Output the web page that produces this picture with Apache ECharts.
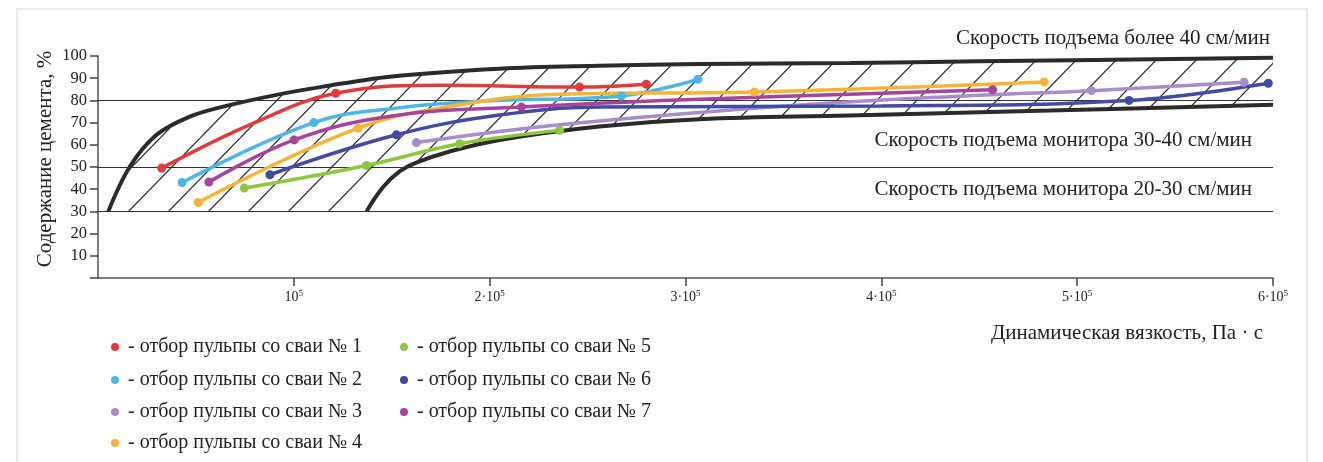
<!DOCTYPE html>
<html><head><meta charset="utf-8">
<script src="https://cdn.jsdelivr.net/npm/echarts@6/dist/echarts.min.js"></script>
<style>html,body{margin:0;padding:0;background:#fff}#c{width:1323px;height:462px}</style>
</head><body><div id="c"></div>
<script>
// ---- data (x: Pa·s, y: %, third value: 1 = visible marker, 0 = line point only)
const seriesNames = [
  'отбор пульпы со сваи № 1','отбор пульпы со сваи № 2','отбор пульпы со сваи № 3',
  'отбор пульпы со сваи № 4','отбор пульпы со сваи № 5','отбор пульпы со сваи № 6',
  'отбор пульпы со сваи № 7'
];
const seriesColors = ['#e3393a','#4db6e8','#a98cca','#f5b434','#8dc63f','#3f4ca2','#a6449c'];
const pile1 = [[32500,49.5,1],[80000,70,0],[121400,83.2,1],[175000,86.8,0],[245900,86,1],[280000,87.3,1]];
const pile2 = [[43000,43,1],[110200,70,1],[154000,76.7,0],[200000,79.8,0],[267200,82,1],[306300,89.5,1]];
const pile3 = [[162600,61,1],[235700,69,0],[354600,77.7,0],[450000,82.3,0],[507300,84.4,1],[585200,88.2,1]];
const pile4 = [[51200,34,1],[132800,67.5,1],[184700,78,0],[236000,82.8,0],[335200,83.8,1],[483200,88.3,1]];
const pile5 = [[74700,40.5,1],[137100,50.7,1],[184700,60.5,1],[235700,66.5,1]];
const pile6 = [[87800,46.5,1],[152400,64.5,1],[205000,73.4,0],[256000,77,0],[400000,77.5,0],[526500,80,1],[597600,87.7,1]];
const pile7 = [[56600,43.2,1],[100200,62.2,1],[150000,73,0],[216200,77,1],[300000,80.3,0],[456800,84.8,1]];
const piles = [pile1,pile2,pile3,pile4,pile5,pile6,pile7];

const upperBound = [[5255,30],[16300,50.2],[29900,64.5],[46900,72.7],[63900,77.2],[91200,82.5],[115000,86.2],[149000,90.7],[205000,94.3],[256000,95.6],[307000,96.4],[384000,96.8],[450000,97.6],[600000,99.2]];
const lowerBound = [[137100,30],[145600,41],[154000,48],[162600,52],[179600,57],[205100,62.2],[256000,68.2],[307000,71.5],[384000,73.2],[486000,75.4],[600000,78]];
const speedLines = [30,50,80];
const speedTexts = ['Скорость подъема более 40 см/мин','Скорость подъема монитора 30-40 см/мин','Скорость подъема монитора 20-30 см/мин'];
const xTickValues = [100000,200000,300000,400000,500000,600000];
const xTickPrefix = ['10','2·10','3·10','4·10','5·10','6·10'];
const xTickExp = '5';
const yAxisName = 'Содержание цемента, %';
const xAxisName = 'Динамическая вязкость, Па · с';

// ---- hatch pattern
const pc = document.createElement('canvas');
pc.width = 40; pc.height = 41;
const g = pc.getContext('2d');
g.strokeStyle = '#2a2a2a'; g.lineWidth = 1.25;
for (let k = -1; k <= 1; k++) {
  g.beginPath(); g.moveTo(14.8 + 40*k + 1, -1.03); g.lineTo(-25.2 + 40*k - 1, 42.03); g.stroke();
}

const SERIF = '"Liberation Serif", "DejaVu Serif", serif';
const chart = echarts.init(document.getElementById('c'), null, {renderer:'canvas'});

const dataSeries = piles.map((p, i) => ({
  type: 'line', name: seriesNames[i], z: 5,
  smooth: 0.4,
  data: p.map(d => ({value: [d[0], d[1]], symbolSize: d[2] ? 9 : 0})),
  symbol: 'circle',
  itemStyle: {color: seriesColors[i]},
  lineStyle: {color: seriesColors[i], width: 3.5},
  emphasis: {disabled: true}
}));

const xFmt = v => {
  const i = xTickValues.indexOf(v);
  return i < 0 ? '' : '{b|' + xTickPrefix[i] + '}{s|' + xTickExp + '}';
};

const rowCenters = [347, 380, 412, 443];
const legends = rowCenters.map((c, r) => ({
  data: [seriesNames[r]].concat(r + 4 < seriesNames.length ? [seriesNames[r + 4]] : []),
  orient: 'horizontal', left: 111, top: c - 11, icon: 'circle',
  itemWidth: 16, itemHeight: 8, itemGap: 38, padding: 0,
  formatter: n => '- ' + n, selectedMode: false,
  textStyle: {fontFamily: SERIF, fontSize: 20, color: '#222', lineHeight: 22}
}));

const txt = (x, y, t, size) => ({type: 'text', z: 20, x: x, y: y,
  style: {text: t, font: size + 'px ' + SERIF, fill: '#222', align: 'right', textAlign: 'right',
          verticalAlign: 'middle', textVerticalAlign: 'middle'}});

chart.setOption({
  animation: false,
  backgroundColor: '#fff',
  grid: {left: 98, right: 50, top: 56, bottom: 184, containLabel: false},
  xAxis: {
    type: 'value', min: 0, max: 600000, interval: 100000,
    splitLine: {show: false},
    axisLine: {lineStyle: {color: '#555', width: 1.5}},
    axisTick: {length: 8, lineStyle: {color: '#444', width: 1.5}, customValues: xTickValues},
    axisLabel: {
      margin: 11, formatter: xFmt, customValues: xTickValues,
      rich: {
        b: {fontFamily: SERIF, fontSize: 14, color: '#222', lineHeight: 16},
        s: {fontFamily: SERIF, fontSize: 9, color: '#222', lineHeight: 9, verticalAlign: 'top'}
      }
    }
  },
  yAxis: {
    type: 'value', min: 0, max: 100, interval: 10,
    splitLine: {show: false},
    axisLine: {show: true, lineStyle: {color: '#555', width: 1.5}},
    axisTick: {show: true, length: 8, lineStyle: {color: '#444', width: 1.5}},
    axisLabel: {margin: 11, fontFamily: SERIF, fontSize: 16.5, color: '#222', formatter: v => v === 0 ? '' : String(v)}
  },
  legend: legends,
  graphic: [
    {type: 'rect', silent: true, z: -1, shape: {x: 17, y: 9, width: 1290, height: 470},
     style: {fill: 'none', stroke: '#e2e2e2', lineWidth: 1.5}},
    txt(1270, 38, speedTexts[0], 21),
    txt(1252, 140, speedTexts[1], 21),
    txt(1252, 189, speedTexts[2], 21),
    txt(1263, 333, xAxisName, 21),
    {type: 'text', z: 20, x: 45, y: 159, rotation: Math.PI/2,
     style: {text: yAxisName, font: '21px ' + SERIF, fill: '#222', align: 'center', textAlign: 'center', verticalAlign: 'middle', textVerticalAlign: 'middle'}}
  ],
  series: [
    {type: 'line', name: 'hatch', z: 1, data: upperBound, smooth: 0.35, symbol: 'none',
     lineStyle: {width: 0}, areaStyle: {origin: 30, color: {image: pc, repeat: 'repeat'}, opacity: 1}, silent: true},
    {type: 'line', name: 'cover', z: 2, data: lowerBound, smooth: 0.4, symbol: 'none',
     lineStyle: {width: 0}, areaStyle: {origin: 30, color: '#fff', opacity: 1}, silent: true},
    {type: 'line', name: 'upper', z: 3, data: upperBound, smooth: 0.35, symbol: 'none',
     lineStyle: {color: '#2b2b2b', width: 4}, silent: true,
     markLine: {silent: true, symbol: 'none', label: {show: false},
       lineStyle: {color: '#333', width: 1.2, type: 'solid'},
       data: speedLines.map(v => ({yAxis: v}))}},
    {type: 'line', name: 'lower', z: 3, data: lowerBound, smooth: 0.4, symbol: 'none',
     lineStyle: {color: '#2b2b2b', width: 4}, silent: true}
  ].concat(dataSeries)
});
</script></body></html>
